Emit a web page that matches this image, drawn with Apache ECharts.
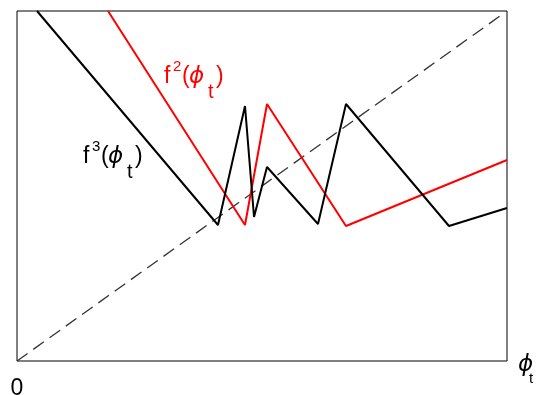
<!DOCTYPE html>
<html>
<head>
<meta charset="utf-8">
<script src="https://cdn.jsdelivr.net/npm/echarts@6/dist/echarts.min.js"></script>
<style>html,body{margin:0;padding:0;background:#fff;}#c{width:542px;height:395px;}</style>
</head>
<body>
<div id="c"></div>
<script>
// data (normalized phi_t on both axes, 0..1)
const diagX = [0, 0.985];
const diagY = [0, 0.985];
const f2X = [0.1857, 0.4653, 0.5102, 0.6714, 1.0];
const f2Y = [1.0, 0.3886, 0.7343, 0.3857, 0.5743];
const f3X = [0.0408, 0.4102, 0.4653, 0.4837, 0.5102, 0.6143, 0.6714, 0.8816, 1.0];
const f3Y = [1.0, 0.3886, 0.7286, 0.4114, 0.5543, 0.3914, 0.7343, 0.3857, 0.4371];
const xTickValues = [0];
const xTickLabels = ['0'];

const zip = (xs, ys) => xs.map((x, i) => [x, ys[i]]);
const FONT = '"Liberation Sans", Arial, Helvetica, sans-serif';
const PHIFONT = '"DejaVu Sans", "Liberation Sans", sans-serif';

function label(x0, yb, sup, color) {
  // yb = baseline; middle = baseline - 0.31*fs
  const parts = [
    {t: 'f', x: 0, fs: 23, dy: 0, ff: FONT, st: 'normal'},
    {t: sup, x: 9, fs: 15, dy: -12, ff: FONT, st: 'normal'},
    {t: '(', x: 18, fs: 23, dy: 0, ff: FONT, st: 'normal'},
    {t: 'ϕ', x: 25, fs: 23, dy: 0, ff: PHIFONT, st: 'italic'},
    {t: 't', x: 44, fs: 20, dy: 15, ff: FONT, st: 'normal'},
    {t: ')', x: 52, fs: 23, dy: 0, ff: FONT, st: 'normal'}
  ];
  return parts.map(p => ({
    type: 'text', silent: true,
    x: x0 + p.x, y: yb + p.dy - 0.31 * p.fs,
    style: {text: p.t, fill: color, fontSize: p.fs, fontFamily: p.ff, fontStyle: p.st,
            verticalAlign: 'middle', align: 'left'}
  }));
}

const chart = echarts.init(document.getElementById('c'), null, {renderer: 'canvas'});
chart.setOption({
  animation: false,
  backgroundColor: '#fff',
  grid: {left: 17, top: 11, width: 490, height: 350, containLabel: false, outerBoundsMode: 'none',
         show: true, borderColor: '#000', borderWidth: 1, backgroundColor: 'transparent'},
  xAxis: {
    type: 'value', min: 0, max: 1, interval: 1,
    axisLine: {show: false}, axisTick: {show: false}, splitLine: {show: false},
    axisLabel: {
      show: true, margin: 16, fontSize: 23, color: '#000', fontFamily: FONT,
      showMaxLabel: false,
      formatter: v => { const i = xTickValues.indexOf(v); return i >= 0 ? xTickLabels[i] : ''; }
    }
  },
  yAxis: {
    type: 'value', min: 0, max: 1,
    axisLine: {show: false}, axisTick: {show: false}, splitLine: {show: false}, axisLabel: {show: false}
  },
  series: [
    {type: 'line', data: zip(diagX, diagY), symbol: 'none', lineStyle: {color: '#333', width: 1.3, type: [13, 7]}, silent: true},
    {type: 'line', data: zip(f2X, f2Y), symbol: 'none', lineStyle: {color: '#ff0000', width: 2}, silent: true},
    {type: 'line', data: zip(f3X, f3Y), symbol: 'none', lineStyle: {color: '#000000', width: 2}, silent: true}
  ],
  graphic: [].concat(
    label(164, 84, '2', '#ff0000'),
    label(83, 164, '3', '#000000'),
    [
      {type: 'text', silent: true, x: 518, y: 372 - 0.31 * 23,
       style: {text: 'ϕ', fill: '#000', fontSize: 23, fontFamily: PHIFONT, fontStyle: 'italic', verticalAlign: 'middle', align: 'left'}},
      {type: 'text', silent: true, x: 529, y: 384 - 0.31 * 15,
       style: {text: 't', fill: '#000', fontSize: 15, fontFamily: FONT, verticalAlign: 'middle', align: 'left'}}
    ]
  )
});
</script>
</body>
</html>
